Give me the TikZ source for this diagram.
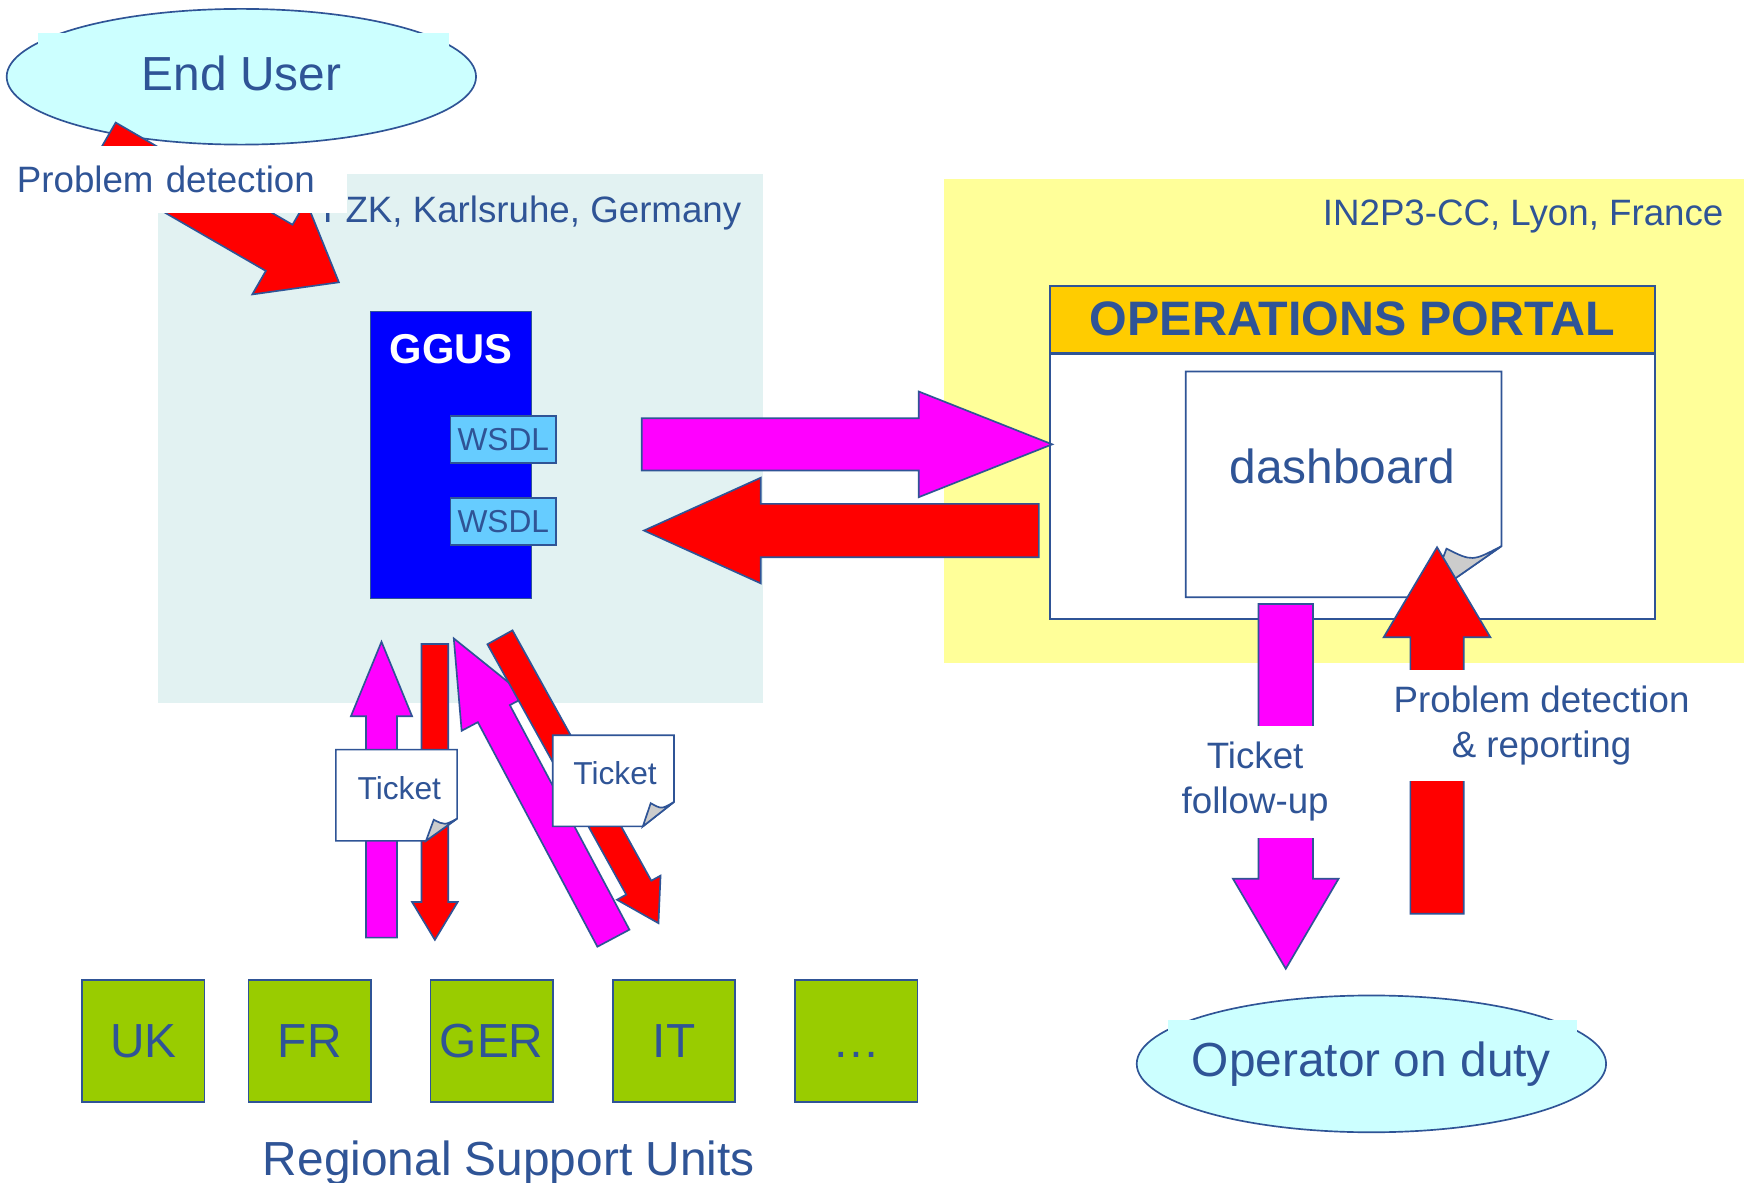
\documentclass[tikz,border=0pt]{standalone}
\usepackage{fontspec}
\setmainfont{Liberation Sans}
\usetikzlibrary{calc, positioning, shapes.geometric}

\definecolor{ink}{RGB}{47,84,150}
\definecolor{fzkgrey}{RGB}{226,242,242}
\definecolor{lyonyellow}{RGB}{255,255,153}
\definecolor{usercyan}{RGB}{204,255,255}
\definecolor{ggusblue}{RGB}{0,0,255}
\definecolor{wsdlblue}{RGB}{102,204,255}
\definecolor{portalgold}{RGB}{255,204,0}
\definecolor{rsugreen}{RGB}{153,204,0}
\definecolor{hotpink}{RGB}{255,0,255}
\definecolor{alarmred}{RGB}{255,0,0}
\definecolor{curl}{RGB}{204,204,204}

\tikzset{
  inkline/.style={draw=ink, line width=1.5pt},
  blockline/.style={draw=ink, line width=1.5pt, line join=miter},
  bigtext/.style={text=ink, font=\fontsize{43}{50}\selectfont},
  midtext/.style={text=ink, font=\fontsize{33}{40.5}\selectfont},
  smalltext/.style={text=ink, font=\fontsize{28.5}{34}\selectfont},
  rsu/.style={inkline, fill=rsugreen, minimum width=110pt, minimum height=110pt,
    inner sep=0pt, bigtext, text height=30pt, text depth=0pt},
  wsdl/.style={inkline, fill=wsdlblue, minimum width=95pt, minimum height=42pt,
    inner sep=0pt, smalltext},
  actor/.style={ellipse, inkline, fill=usercyan, minimum width=422pt,
    minimum height=122pt, inner sep=0pt},
}

% block arrow: tail, tip, half shaft, half head, head length, colour
\newcommand{\fatarrow}[6]{%
  \coordinate (fa-hb) at ($(#2)!#5pt!(#1)$);
  \draw[blockline, fill=#6]
    ($(#1)!#3pt!90:(#2)$) -- ($(fa-hb)!#3pt!90:(#2)$) -- ($(fa-hb)!#4pt!90:(#2)$)
    -- (#2) -- ($(fa-hb)!#4pt!-90:(#2)$) -- ($(fa-hb)!#3pt!-90:(#2)$)
    -- ($(#1)!#3pt!-90:(#2)$) -- cycle;
}

% sheet with folded corner: x1,y1, x2,y2, fold on right, fold on bottom
\newcommand{\dogear}[6]{%
  \draw[inkline, fill=white] (#1,#2) -- (#3,#2) -- (#3,#4-#5) -- (#3-#6,#4) -- (#1,#4) -- cycle;
  \draw[inkline, fill=curl] (#3,#4-#5) .. controls (#3-0.4*#6,#4-0.7*#5) .. (#3-0.75*#6,#4-0.95*#5)
    -- (#3-#6,#4) -- cycle;
}

\begin{document}
\begin{tikzpicture}[x=1pt, y=-1pt]
\useasboundingbox (0,0) rectangle (1568,1063);
\fill[white] (0,0) rectangle (1568,1063);

% sites
\fill[fzkgrey] (142,156) rectangle (686,632);
\fill[lyonyellow] (849,161) rectangle (1568,596);
\node[midtext, anchor=base east] (fzk) at (670,199.7) {FZK, Karlsruhe, Germany};
\node[midtext, anchor=base east] (lyon) at (1553,202.4) {IN2P3-CC, Lyon, France};

% end user
\node[actor] (enduser-shape) at (217,69) {};
\fill[usercyan] (34,30) rectangle (404,95);
\node[bigtext, anchor=base] (enduser) at (217,81) {End User};

\coordinate (detect-tail) at (92,131);
\coordinate (detect-tip) at (304.7,253.8);
\fatarrow{detect-tail}{detect-tip}{24}{48.4}{62}{alarmred}
\node[midtext, fill=white, anchor=north west, inner xsep=10pt, inner ysep=0pt,
  text width=287pt, align=left, minimum height=60pt, text depth=0pt] (detect) at (5,131) {Problem detection};

% GGUS
\node[inkline, fill=ggusblue, minimum width=145pt, minimum height=258pt, inner sep=0pt] (ggus-box) at (405.5,409) {};
\node[text=white, font=\bfseries\fontsize{37.5}{45}\selectfont, anchor=base] (ggus) at (405.5,326.5) {GGUS};
\node[wsdl] (wsdl-out) at (452.5,395) {WSDL};
\node[wsdl] (wsdl-in) at (452.5,469) {WSDL};

% operations portal
\node[inkline, fill=portalgold, minimum width=544pt, minimum height=60pt, inner sep=0pt,
  text=ink, font=\bfseries\fontsize{43.5}{50}\selectfont] (portal) at (1216,287) {OPERATIONS PORTAL};
\node[inkline, fill=white, minimum width=544pt, minimum height=238pt, inner sep=0pt,
  below=0pt of portal] (portal-body) {};
\dogear{1066}{334}{1350}{537}{46}{66}
\node[bigtext, anchor=base] (dashboard) at (1207,435) {dashboard};

% GGUS <-> portal
\coordinate (to-portal-tail) at (577,399.5);
\coordinate (to-portal-tip) at (946,399.5);
\fatarrow{to-portal-tail}{to-portal-tip}{23.5}{47.5}{120}{hotpink}
\coordinate (from-portal-tail) at (934,477);
\coordinate (from-portal-tip) at (579,477);
\fatarrow{from-portal-tail}{from-portal-tip}{24}{47.5}{105}{alarmred}

% GGUS <-> support units
\coordinate (up-a-tail) at (343,843);
\coordinate (up-a-tip) at (343,577);
\fatarrow{up-a-tail}{up-a-tip}{14}{27.5}{67}{hotpink}
\coordinate (down-a-tail) at (391,579);
\coordinate (down-a-tip) at (391,845);
\fatarrow{down-a-tail}{down-a-tip}{12}{20.5}{34}{alarmred}
\coordinate (up-b-tail) at (551.5,843.5);
\coordinate (up-b-tip) at (408,574);
\fatarrow{up-b-tail}{up-b-tip}{16.3}{32.8}{76.6}{hotpink}
\coordinate (down-b-tail) at (449.5,573);
\coordinate (down-b-tip) at (592,830);
\fatarrow{down-b-tail}{down-b-tip}{12.9}{22.4}{36.5}{alarmred}

\dogear{302}{674}{411}{756}{20}{28}
\node[smalltext, anchor=base] (ticket-a) at (359,719) {Ticket};
\dogear{497}{661}{606}{743}{22}{28}
\node[smalltext, anchor=base] (ticket-b) at (553,705.7) {Ticket};

% portal <-> operator
\coordinate (followup-tail) at (1156,543);
\coordinate (followup-tip) at (1156,871);
\fatarrow{followup-tail}{followup-tip}{24.5}{47.5}{81}{hotpink}
\node[midtext, fill=white, align=center, minimum height=100pt] (followup) at (1128.5,703) {Ticket\\follow-up};
\coordinate (report-tail) at (1292,821.5);
\coordinate (report-tip) at (1292,492);
\fatarrow{report-tail}{report-tip}{24}{48}{81}{alarmred}
\node[midtext, fill=white, align=center, minimum height=100pt] (report) at (1386,652) {Problem detection\\\& reporting};

% regional support units
\node[rsu] (uk) at (129,936) {UK};
\node[rsu] (fr) at (278.5,936) {FR};
\node[rsu] (ger) at (442,936) {GER};
\node[rsu] (it) at (606,936) {IT};
\node[rsu] (more) at (770,936) {…};
\node[bigtext, anchor=base] (rsu-label) at (457.5,1057) {Regional Support Units};

% operator
\node[actor, minimum height=123pt] (operator-shape) at (1233,956.5) {};
\fill[usercyan] (1050,917) rectangle (1418,980);
\node[bigtext, anchor=base] (operator) at (1233,968) {Operator on duty};
\end{tikzpicture}
\end{document}
